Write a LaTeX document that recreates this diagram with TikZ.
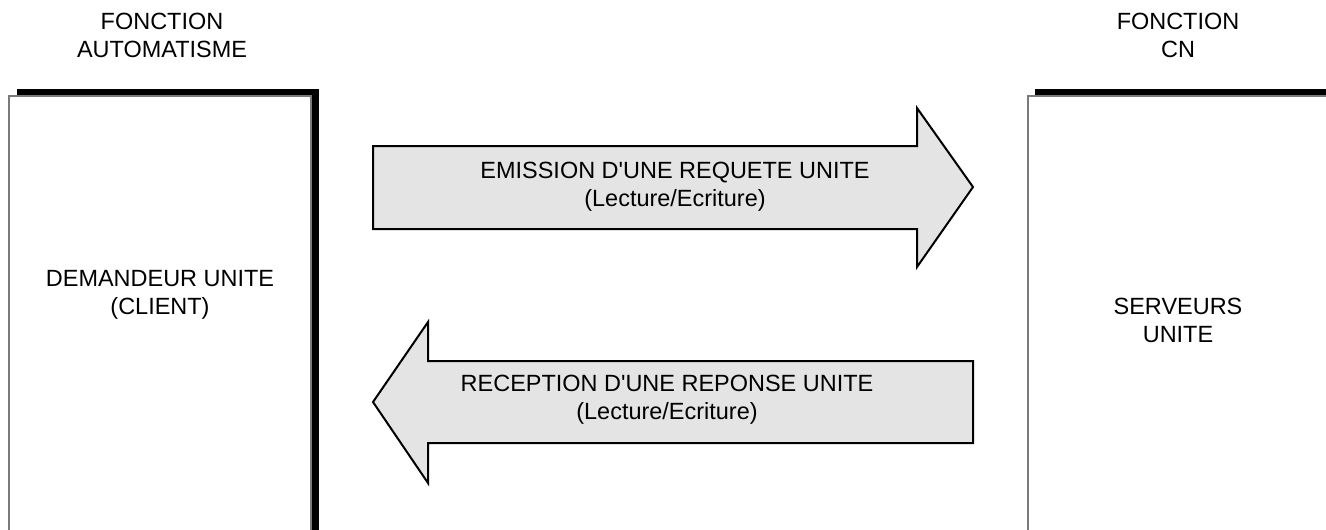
\documentclass[tikz,border=0pt]{standalone}
\usepackage{fontspec}
\setmainfont{Liberation Sans}
\usepackage{xcolor}
\usepackage{tikz}
\usetikzlibrary{positioning, calc}
\definecolor{flowgrey}{HTML}{E4E4E4}
\definecolor{framegrey}{HTML}{7A7A7A}

\begin{document}
\begin{tikzpicture}[x=0.75pt, y=-0.75pt,
  panel/.style={draw=framegrey, line width=1.2pt, fill=white},
  shade/.style={fill=black, draw=none},
  flow/.style={draw=black, line width=1.5pt, fill=flowgrey, line join=miter},
  label/.style={align=center, inner sep=0pt,
    font=\fontsize{17.6}{21}\selectfont}]
  \useasboundingbox (0,0) rectangle (1326,529);
  \clip (0,0) rectangle (1326,529);
  % client side
  \fill[shade] (17,89) rectangle (319,560);
  \draw[panel] (9,96) rectangle (311,560);
  % server side
  \fill[shade] (1035,89) rectangle (1360,560);
  \draw[panel] (1028,96) rectangle (1352,560);
  \node[label] (auto) at (162,35) {FONCTION\\AUTOMATISME};
  \node[label] (cn) at (1178,35) {FONCTION\\CN};
  \node[label] (client) at (160,295) {DEMANDEUR UNITE\\(CLIENT)};
  \node[label] (server) at (1178,320) {SERVEURS\\UNITE};
  % request and answer
  \draw[flow] (373,146) -- (917,146) -- (917,108) -- (973,187)
    -- (917,267) -- (917,229) -- (373,229) -- cycle;
  \draw[flow] (973,361) -- (428,361) -- (428,322) -- (373,402)
    -- (428,483) -- (428,443) -- (973,443) -- cycle;
  \node[label] (request) at (675,187) {EMISSION D\textquotesingle UNE REQUETE UNITE\\(Lecture/Ecriture)};
  \node[label] (answer) at (667,400) {RECEPTION D\textquotesingle UNE REPONSE UNITE\\(Lecture/Ecriture)};
\end{tikzpicture}
\end{document}
